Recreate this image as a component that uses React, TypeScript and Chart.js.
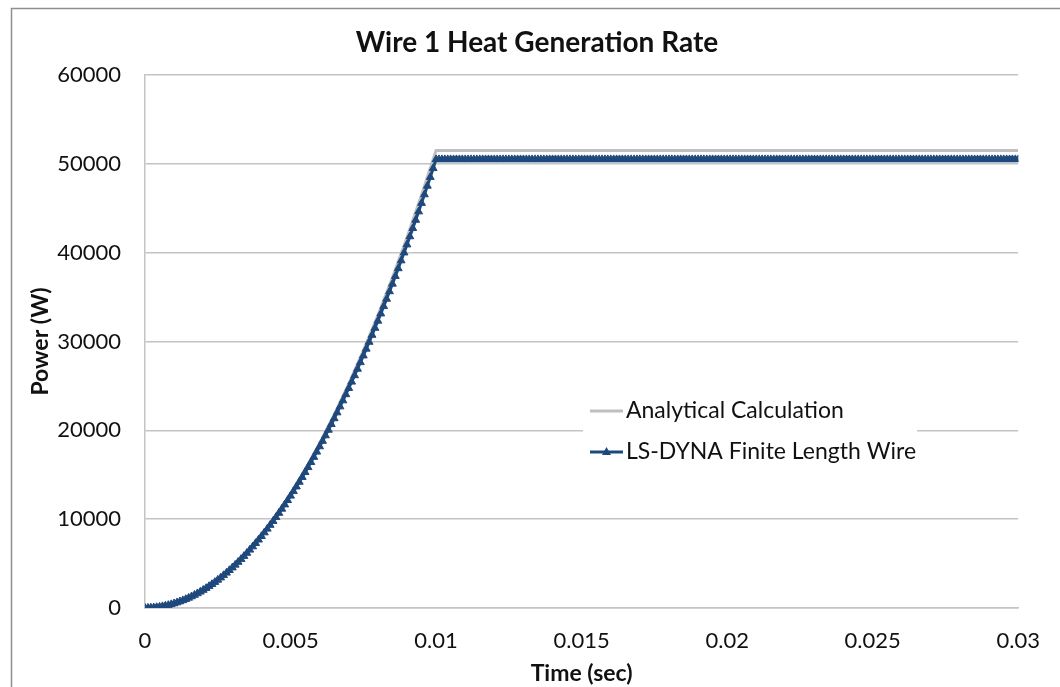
import React, { useEffect, useRef } from "react";
import { Chart, registerables } from "chart.js";

Chart.register(...registerables);

const CHART_TITLE = "Wire 1 Heat Generation Rate";
const X_TITLE = "Time (sec)";
const Y_TITLE = "Power (W)";
const SERIES_ANALYTICAL = "Analytical Calculation";
const SERIES_DYNA = "LS-DYNA Finite Length Wire";

const X_MIN = 0;
const X_MAX = 0.03;
const X_STEP = 0.005;
const Y_MIN = 0;
const Y_MAX = 60000;
const Y_STEP = 10000;

// Analytical calculation (gray line)
const analyticalTime = [
  0, 0.0005, 0.001, 0.0015, 0.002, 0.0025, 0.003, 0.0035, 0.004, 0.0045, 0.005,
  0.0055, 0.006, 0.0065, 0.007, 0.0075, 0.008, 0.0085, 0.009, 0.0095, 0.01, 0.03,
];
const analyticalPower = [
  0, 129, 515, 1159, 2060, 3219, 4635, 6309, 8240, 10429, 12875,
  15579, 18540, 21759, 25235, 28969, 32960, 37209, 41715, 46479, 51500, 51500,
];

// LS-DYNA output, one sample every DYNA_DT seconds starting at t = 0
const DYNA_DT = 0.0001;
const dynaPower = [
  0, 5, 20, 45, 81, 126, 182, 247, 323, 409,
  505, 611, 727, 853, 990, 1136, 1293, 1459, 1636, 1823,
  2020, 2227, 2444, 2671, 2909, 3156, 3414, 3681, 3959, 4247,
  4545, 4853, 5171, 5499, 5838, 6186, 6545, 6913, 7292, 7681,
  8080, 8489, 8908, 9337, 9777, 10226, 10686, 11155, 11635, 12125,
  12625, 13135, 13655, 14185, 14725, 15276, 15837, 16407, 16988, 17579,
  18180, 18791, 19412, 20043, 20685, 21336, 21998, 22669, 23351, 24043,
  24745, 25457, 26179, 26911, 27653, 28406, 29169, 29941, 30724, 31517,
  32320, 33133, 33956, 34789, 35633, 36486, 37350, 38223, 39107, 40001,
  40905, 41819, 42743, 43677, 44621, 45576, 46541, 47515, 48500, 49495,
  50500, 50500, 50500, 50500, 50500, 50500, 50500, 50500, 50500, 50500,
  50500, 50500, 50500, 50500, 50500, 50500, 50500, 50500, 50500, 50500,
  50500, 50500, 50500, 50500, 50500, 50500, 50500, 50500, 50500, 50500,
  50500, 50500, 50500, 50500, 50500, 50500, 50500, 50500, 50500, 50500,
  50500, 50500, 50500, 50500, 50500, 50500, 50500, 50500, 50500, 50500,
  50500, 50500, 50500, 50500, 50500, 50500, 50500, 50500, 50500, 50500,
  50500, 50500, 50500, 50500, 50500, 50500, 50500, 50500, 50500, 50500,
  50500, 50500, 50500, 50500, 50500, 50500, 50500, 50500, 50500, 50500,
  50500, 50500, 50500, 50500, 50500, 50500, 50500, 50500, 50500, 50500,
  50500, 50500, 50500, 50500, 50500, 50500, 50500, 50500, 50500, 50500,
  50500, 50500, 50500, 50500, 50500, 50500, 50500, 50500, 50500, 50500,
  50500, 50500, 50500, 50500, 50500, 50500, 50500, 50500, 50500, 50500,
  50500, 50500, 50500, 50500, 50500, 50500, 50500, 50500, 50500, 50500,
  50500, 50500, 50500, 50500, 50500, 50500, 50500, 50500, 50500, 50500,
  50500, 50500, 50500, 50500, 50500, 50500, 50500, 50500, 50500, 50500,
  50500, 50500, 50500, 50500, 50500, 50500, 50500, 50500, 50500, 50500,
  50500, 50500, 50500, 50500, 50500, 50500, 50500, 50500, 50500, 50500,
  50500, 50500, 50500, 50500, 50500, 50500, 50500, 50500, 50500, 50500,
  50500, 50500, 50500, 50500, 50500, 50500, 50500, 50500, 50500, 50500,
  50500, 50500, 50500, 50500, 50500, 50500, 50500, 50500, 50500, 50500,
  50500,
];

const BLUE = "#1F497D";
const GRAY_LINE = "#BFBFBF";
const GRID = "#C4C4C4";
const FONT = "Lato, 'Liberation Sans', sans-serif";
const TEXT = "#111111";

const frameAndTitle = {
  id: "frameAndTitle",
  beforeDraw(chart: any) {
    const ctx = chart.ctx;
    ctx.save();
    ctx.fillStyle = "#ffffff";
    ctx.fillRect(0, 0, chart.width, chart.height);
    ctx.strokeStyle = "#8E8E8E";
    ctx.lineWidth = 1.5;
    ctx.beginPath();
    ctx.moveTo(11.5, chart.height + 5);
    ctx.lineTo(11.5, 8.5);
    ctx.lineTo(chart.width + 5, 8.5);
    ctx.stroke();
    ctx.restore();
  },
  afterDraw(chart: any) {
    const ctx = chart.ctx;
    ctx.save();
    // title
    ctx.fillStyle = TEXT;
    ctx.font = `bold 28px ${FONT}`;
    ctx.textAlign = "center";
    ctx.textBaseline = "middle";
    ctx.fillText(CHART_TITLE, 537, 43);
    // legend
    ctx.fillStyle = "#ffffff";
    ctx.fillRect(583, 392, 334, 78);
    ctx.font = `23px ${FONT}`;
    ctx.textAlign = "left";
    ctx.fillStyle = TEXT;
    ctx.strokeStyle = GRAY_LINE;
    ctx.lineWidth = 3;
    ctx.beginPath();
    ctx.moveTo(590, 411);
    ctx.lineTo(623, 411);
    ctx.stroke();
    ctx.fillText(SERIES_ANALYTICAL, 626, 411);
    ctx.strokeStyle = BLUE;
    ctx.beginPath();
    ctx.moveTo(590, 452);
    ctx.lineTo(623, 452);
    ctx.stroke();
    ctx.fillStyle = BLUE;
    ctx.beginPath();
    ctx.moveTo(606.5, 447);
    ctx.lineTo(611, 455);
    ctx.lineTo(602, 455);
    ctx.closePath();
    ctx.fill();
    ctx.fillStyle = TEXT;
    ctx.fillText(SERIES_DYNA, 626, 452);
    ctx.restore();
  },
};

export default function App() {
  const ref = useRef<HTMLCanvasElement | null>(null);
  useEffect(() => {
    if (!ref.current) return;
    const dynaData = dynaPower.map((p, i) => ({ x: i * DYNA_DT, y: p }));
    const analyticalData = analyticalTime.map((t, i) => ({ x: t, y: analyticalPower[i] }));
    const chart = new Chart(ref.current, {
      type: "line",
      data: {
        datasets: [
          {
            label: SERIES_DYNA,
            data: dynaData,
            borderColor: BLUE,
            backgroundColor: BLUE,
            borderWidth: 3,
            pointStyle: "triangle",
            pointRadius: 4.5,
            pointBorderWidth: 1,
            pointBackgroundColor: BLUE,
            pointBorderColor: BLUE,
            tension: 0,
          },
          {
            label: SERIES_ANALYTICAL,
            data: analyticalData,
            borderColor: GRAY_LINE,
            backgroundColor: GRAY_LINE,
            borderWidth: 3,
            pointRadius: 0,
            tension: 0,
          },
        ],
      },
      options: {
        animation: false,
        responsive: false,
        devicePixelRatio: 1,
        layout: { padding: { left: 27, right: 40, top: 75, bottom: 0 } },
        plugins: {
          legend: { display: false },
          title: { display: false },
          tooltip: { enabled: false },
        },
        scales: {
          x: {
            type: "linear",
            min: X_MIN,
            max: X_MAX,
            grid: { display: false, drawTicks: false },
            border: { display: true, color: GRID, width: 1.5 },
            ticks: {
              stepSize: X_STEP,
              padding: 20,
              color: TEXT,
              font: { family: FONT, size: 22 },
              maxRotation: 0,
              callback: (v: any) => String(Number(Number(v).toFixed(4))),
            },
            title: {
              display: true,
              text: X_TITLE,
              color: TEXT,
              font: { family: FONT, size: 23, weight: "bold" },
              padding: { top: 0, bottom: 0 },
            },
            afterFit: (s: any) => {
              s.height = 79;
            },
          },
          y: {
            type: "linear",
            min: Y_MIN,
            max: Y_MAX,
            grid: { color: GRID, lineWidth: 1.5, drawTicks: false },
            border: { display: true, color: GRID, width: 1.5 },
            ticks: {
              stepSize: Y_STEP,
              padding: 24,
              color: TEXT,
              font: { family: FONT, size: 22 },
              callback: (v: any) => String(v),
            },
            title: {
              display: true,
              text: Y_TITLE,
              color: TEXT,
              font: { family: FONT, size: 23, weight: "bold" },
              padding: { top: 0, bottom: 0 },
            },
            afterFit: (s: any) => {
              s.width = 118;
            },
          },
        },
      },
      plugins: [frameAndTitle],
    });
    return () => chart.destroy();
  }, []);
  return (
    <div style={{ position: "absolute", left: 0, top: 0, width: 1060, height: 687 }}>
      <canvas ref={ref} width={1060} height={687} />
    </div>
  );
}
